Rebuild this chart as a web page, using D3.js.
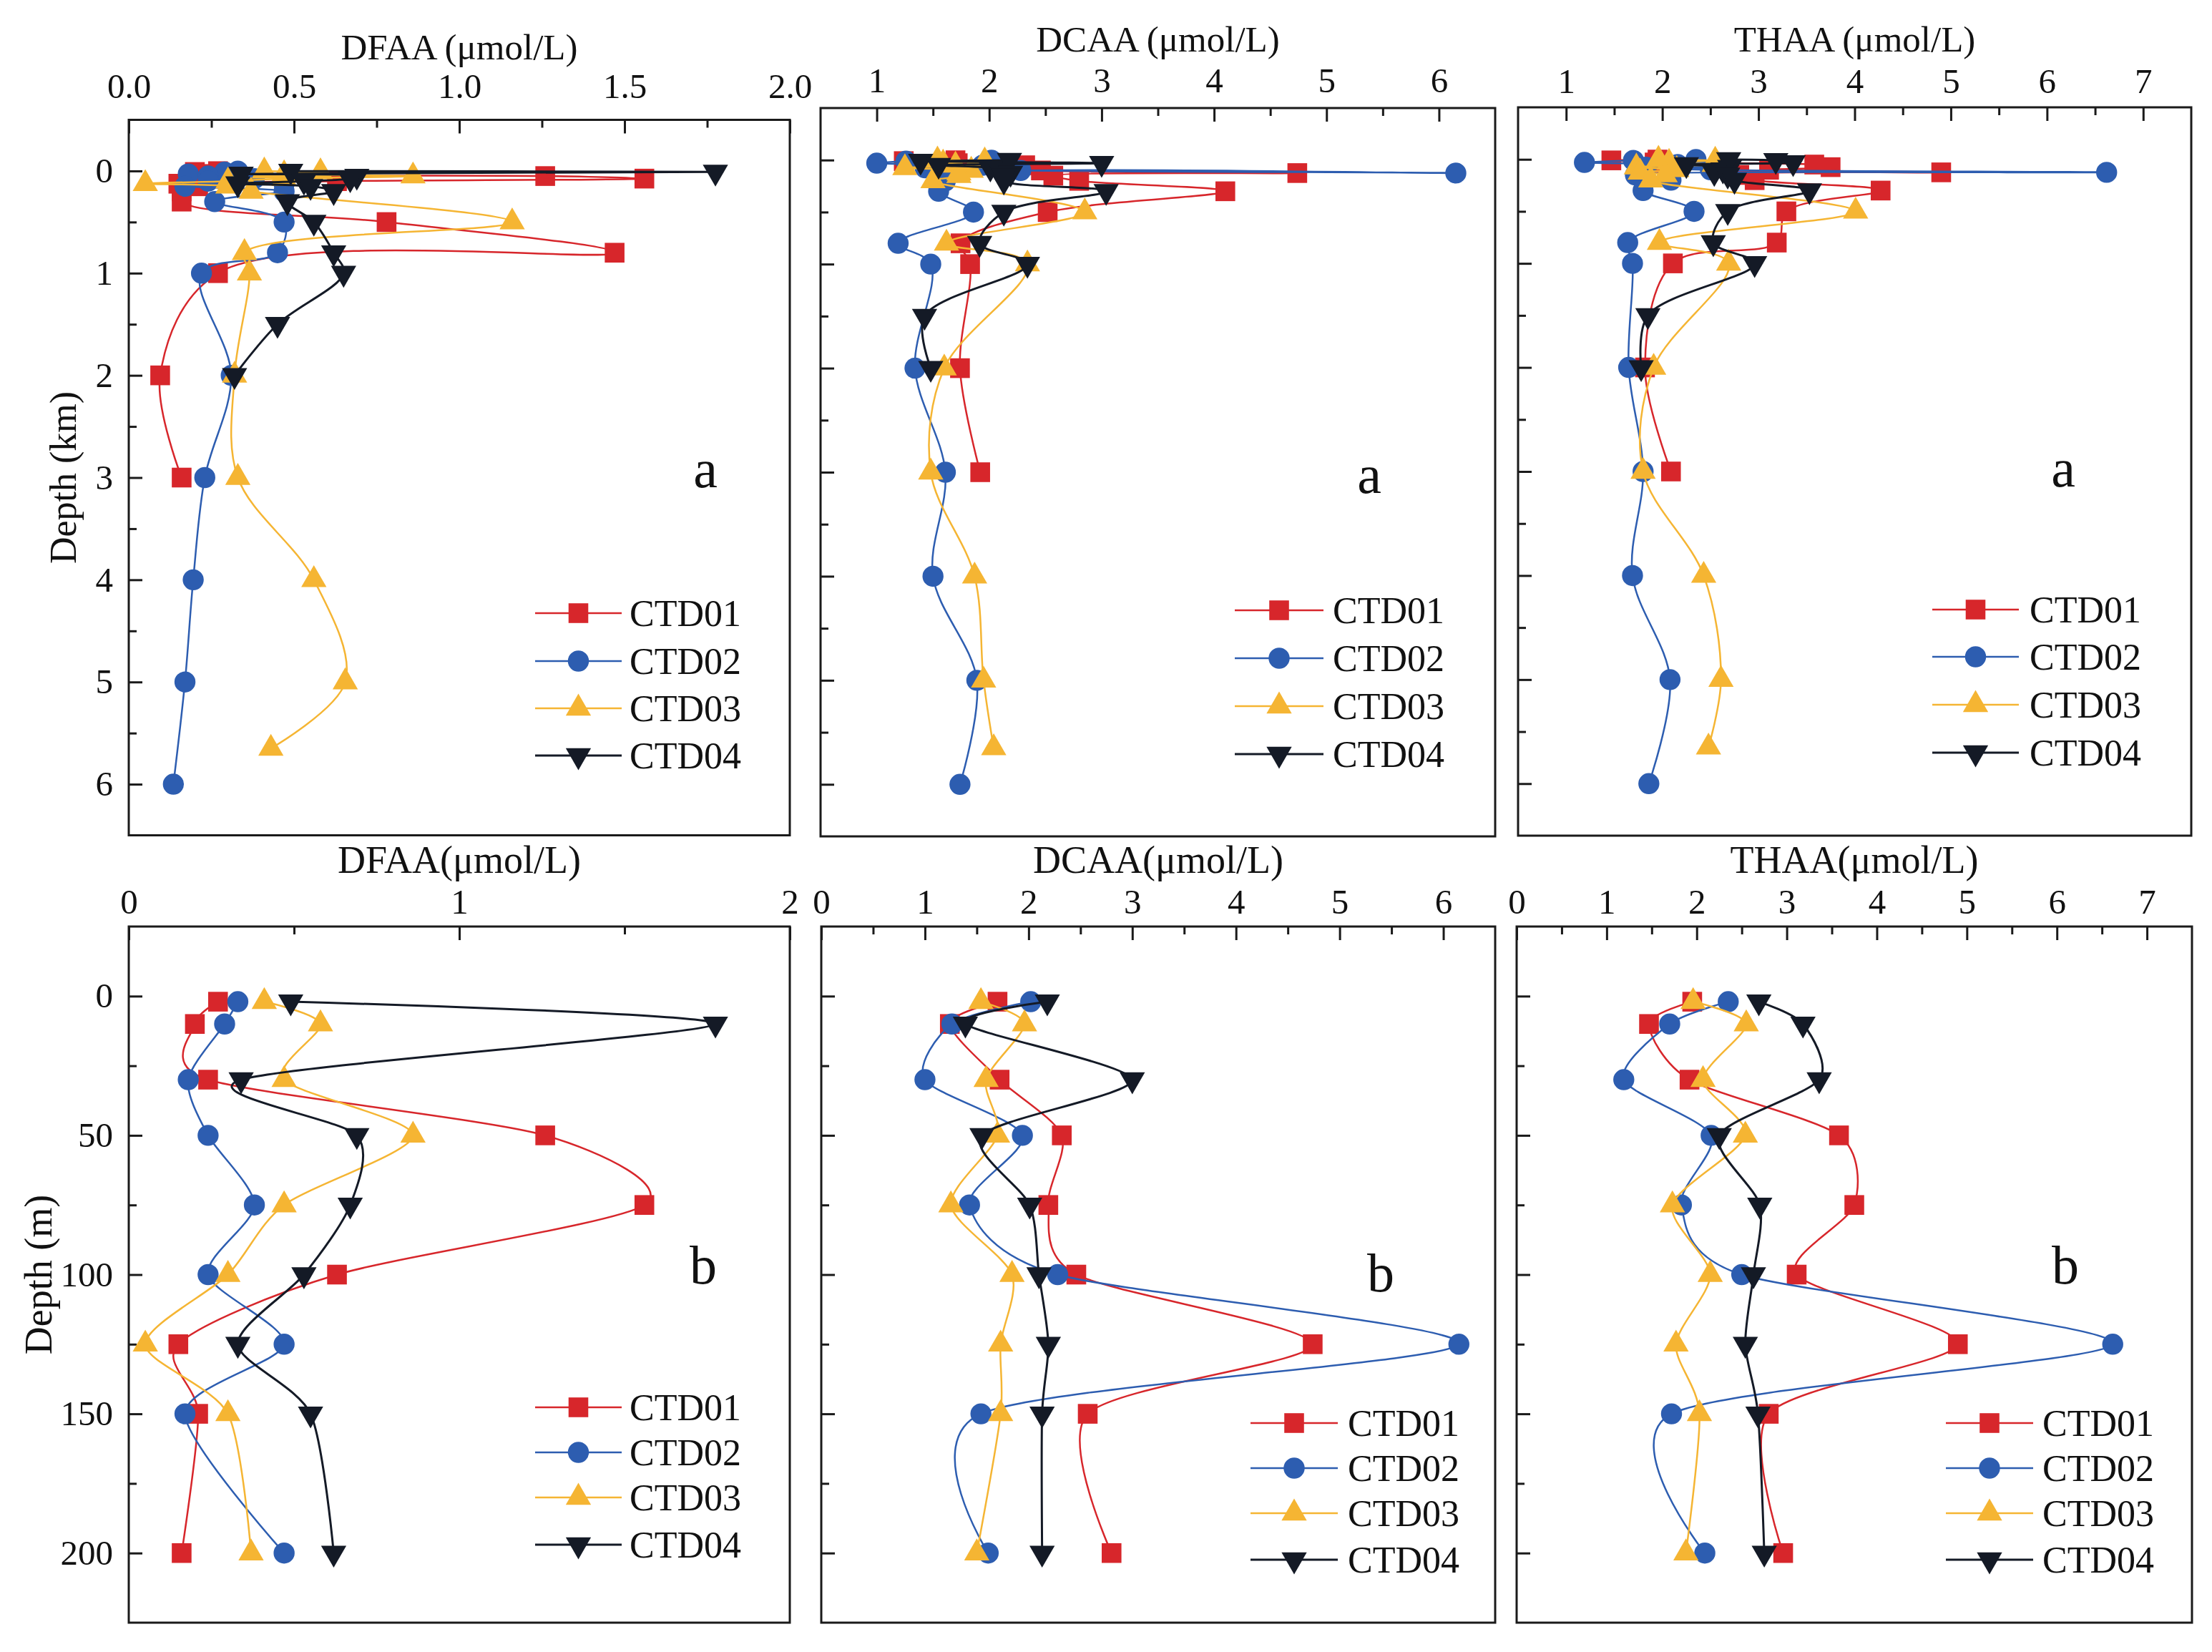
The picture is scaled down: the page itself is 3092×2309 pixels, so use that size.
<!DOCTYPE html>
<html>
<head>
<meta charset="utf-8">
<script src="https://d3js.org/d3.v7.min.js"></script>
<style>
  body { margin: 0; background: #fff; }
  text { font-family: "Liberation Serif", "Times New Roman", Times, serif; fill: #111; }
</style>
</head>
<body>
<script>
// ---- data: depth (m) per station, and concentration (umol/L) per variable ----
const stations = ["CTD01", "CTD02", "CTD03", "CTD04"];

const depthCTD01 = [2, 10, 30, 50, 75, 100, 125, 150, 200, 300, 500, 800, 1000, 2000, 3000];
const depthCTD02 = [2, 10, 30, 50, 75, 100, 125, 150, 200, 300, 500, 800, 1000, 2000, 3000, 4000, 5000, 6000];
const depthCTD03 = [2, 10, 30, 50, 75, 100, 125, 150, 200, 500, 800, 1000, 2000, 3000, 4000, 5000, 5650];
const depthCTD04 = [2, 10, 30, 50, 75, 100, 125, 150, 200, 300, 500, 800, 1000, 1500, 2000];

const dfaaCTD01 = [0.27, 0.20, 0.24, 1.26, 1.56, 0.63, 0.15, 0.21, 0.16, 0.16, 0.78, 1.47, 0.27, 0.095, 0.16];
const dfaaCTD02 = [0.33, 0.29, 0.18, 0.24, 0.38, 0.24, 0.47, 0.17, 0.47, 0.26, 0.47, 0.45, 0.22, 0.31, 0.23, 0.195, 0.17, 0.135];
const dfaaCTD03 = [0.41, 0.58, 0.47, 0.86, 0.47, 0.30, 0.05, 0.30, 0.37, 1.16, 0.35, 0.365, 0.32, 0.33, 0.56, 0.655, 0.43];
const dfaaCTD04 = [0.49, 1.775, 0.34, 0.69, 0.67, 0.53, 0.33, 0.55, 0.62, 0.48, 0.56, 0.62, 0.65, 0.45, 0.32];

const dcaaCTD01 = [1.70, 1.24, 1.72, 2.32, 2.19, 2.46, 4.74, 2.57, 2.80, 4.10, 2.52, 1.745, 1.83, 1.74, 1.92];
const dcaaCTD02 = [2.02, 1.26, 1.00, 1.94, 1.43, 2.28, 6.15, 1.54, 1.61, 1.55, 1.86, 1.19, 1.48, 1.34, 1.61, 1.50, 1.89, 1.74];
const dcaaCTD03 = [1.54, 1.96, 1.59, 1.70, 1.25, 1.84, 1.73, 1.73, 1.50, 2.85, 1.62, 2.34, 1.60, 1.48, 1.87, 1.95, 2.04];
const dcaaCTD04 = [2.18, 1.39, 3.00, 1.55, 2.01, 2.10, 2.19, 2.13, 2.13, 3.04, 2.13, 1.915, 2.34, 1.425, 1.48];

const thaaCTD01 = [1.95, 1.47, 1.92, 3.58, 3.75, 3.11, 4.90, 2.80, 2.96, 4.27, 3.29, 3.19, 2.11, 1.82, 2.09];
const thaaCTD02 = [2.35, 1.70, 1.19, 2.16, 1.83, 2.50, 6.62, 1.72, 2.09, 1.80, 2.33, 1.64, 1.69, 1.65, 1.80, 1.69, 2.08, 1.86];
const thaaCTD03 = [1.96, 2.55, 2.07, 2.54, 1.73, 2.15, 1.77, 2.03, 1.88, 4.01, 1.97, 2.69, 1.91, 1.80, 2.43, 2.61, 2.48];
const thaaCTD04 = [2.69, 3.18, 3.36, 2.25, 2.70, 2.63, 2.54, 2.68, 2.75, 3.53, 2.68, 2.53, 2.96, 1.85, 1.78];

// tick values
const ticksDFAAa = [0, 0.5, 1, 1.5, 2],   minorDFAAa = [0.25, 0.75, 1.25, 1.75];
const ticksDCAAa = [1, 2, 3, 4, 5, 6],    minorDCAAa = [1.5, 2.5, 3.5, 4.5, 5.5];
const ticksTHAAa = [1, 2, 3, 4, 5, 6, 7], minorTHAAa = [1.5, 2.5, 3.5, 4.5, 5.5, 6.5];
const ticksDFAAb = [0, 1, 2],             minorDFAAb = [0.5, 1.5];
const ticksDCAAb = [0, 1, 2, 3, 4, 5, 6], minorDCAAb = [0.5, 1.5, 2.5, 3.5, 4.5, 5.5];
const ticksTHAAb = [0, 1, 2, 3, 4, 5, 6, 7], minorTHAAb = [0.5, 1.5, 2.5, 3.5, 4.5, 5.5, 6.5];
const depthTicksKm = [0, 1, 2, 3, 4, 5, 6], depthMinorKm = [0.5, 1.5, 2.5, 3.5, 4.5, 5.5];
const depthTicksM = [0, 50, 100, 150, 200], depthMinorM = [25, 75, 125, 175];

const depths = [depthCTD01, depthCTD02, depthCTD03, depthCTD04];
const values = {
  DFAA: [dfaaCTD01, dfaaCTD02, dfaaCTD03, dfaaCTD04],
  DCAA: [dcaaCTD01, dcaaCTD02, dcaaCTD03, dcaaCTD04],
  THAA: [thaaCTD01, thaaCTD02, thaaCTD03, thaaCTD04]
};

const colors = ["#d7262b", "#2d5db0", "#f5b533", "#141a26"];
const symbols = [d3.symbolSquare, d3.symbolCircle, d3.symbolTriangle, d3.symbolTriangle];
const symSize = [760, 680, 540, 540];
const symRot = [0, 0, 0, 180];
const serif = "Liberation Serif, Times New Roman, Times, serif";

const W = 3092, H = 2309;
const svg = d3.select("body").append("svg")
  .attr("width", W).attr("height", H)
  .style("background", "#fff");

const panels = [
  {v: "DFAA", row: "a", l: 180, r: 1104, t: 167.5, b: 1167.5, xd: [0, 2], maj: ticksDFAAa, min: minorDFAAa, fmt: d3.format(".1f"),
   title: "DFAA (\u03bcmol/L)", titleY: 83, pad: 31, letter: [986, 658], leg: [748, 869, 880, [857, 924, 990, 1056]], yTitle: "Depth (km)"},
  {v: "DCAA", row: "a", l: 1147, r: 2090, t: 151, b: 1169, xd: [0.5, 6.5], maj: ticksDCAAa, min: minorDCAAa, fmt: d3.format("d"),
   title: "DCAA (\u03bcmol/L)", titleY: 72, pad: 22, letter: [1914, 666], leg: [1726, 1850, 1863, [853, 920, 987, 1054]]},
  {v: "THAA", row: "a", l: 2122, r: 3063, t: 150, b: 1168, xd: [0.5, 7.5], maj: ticksTHAAa, min: minorTHAAa, fmt: d3.format("d"),
   title: "THAA (\u03bcmol/L)", titleY: 72, pad: 20, letter: [2884, 657], leg: [2701, 2822, 2837, [852, 918, 985, 1052]]},
  {v: "DFAA", row: "b", l: 180, r: 1104, t: 1295, b: 2268, xd: [0, 2], maj: ticksDFAAb, min: minorDFAAb, fmt: d3.format("d"),
   title: "DFAA(\u03bcmol/L)", titleY: 1220, pad: 18, letter: [983, 1771], leg: [748, 869, 880, [1967, 2030, 2093, 2159]], yTitle: "Depth (m)"},
  {v: "DCAA", row: "b", l: 1148, r: 2090, t: 1295, b: 2268, xd: [0, 6.5], maj: ticksDCAAb, min: minorDCAAb, fmt: d3.format("d"),
   title: "DCAA(\u03bcmol/L)", titleY: 1220, pad: 18, letter: [1930, 1782], leg: [1748, 1870, 1884, [1989, 2052, 2115, 2180]]},
  {v: "THAA", row: "b", l: 2120, r: 3064, t: 1295, b: 2268, xd: [0, 7.5], maj: ticksTHAAb, min: minorTHAAb, fmt: d3.format("d"),
   title: "THAA(\u03bcmol/L)", titleY: 1220, pad: 18, letter: [2887, 1771], leg: [2720, 2842, 2855, [1989, 2052, 2115, 2180]]}
];

panels.forEach(p => {
  const isA = p.row === "a";
  const x = d3.scaleLinear().domain(p.xd).range([p.l, p.r]);
  const y = isA
    ? d3.scaleLinear().domain([-0.5, 6.5]).range([p.t, p.b])
    : d3.scaleLinear().domain([-25, 225]).range([p.t, p.b]);
  const g = svg.append("g");

  // frame
  g.append("rect")
    .attr("x", p.l).attr("y", p.t)
    .attr("width", p.r - p.l).attr("height", p.b - p.t)
    .attr("fill", "none").attr("stroke", "#1a1a1a").attr("stroke-width", 3);

  // top axis, ticks pointing inward
  const gx = g.append("g").attr("transform", `translate(0,${p.t})`)
    .call(d3.axisTop(x).tickValues(p.maj).tickSize(-19).tickPadding(p.pad).tickFormat(p.fmt));
  const gxm = g.append("g").attr("transform", `translate(0,${p.t})`)
    .call(d3.axisTop(x).tickValues(p.min).tickSize(-11).tickFormat(""));

  // left axis
  const yMaj = isA ? depthTicksKm : depthTicksM;
  const yMin = isA ? depthMinorKm : depthMinorM;
  const gy = g.append("g").attr("transform", `translate(${p.l},0)`)
    .call(d3.axisLeft(y).tickValues(yMaj).tickSize(-19).tickPadding(22)
      .tickFormat(p.yTitle ? d3.format("d") : ""));
  const gym = g.append("g").attr("transform", `translate(${p.l},0)`)
    .call(d3.axisLeft(y).tickValues(yMin).tickSize(-11).tickFormat(""));

  [gx, gxm, gy, gym].forEach(a => {
    a.attr("font-family", serif);
    a.select(".domain").remove();
    a.selectAll("line").attr("stroke", "#1a1a1a").attr("stroke-width", 3);
    a.selectAll("text").attr("font-size", 49).attr("fill", "#111");
  });

  // x title
  g.append("text").attr("x", (p.l + p.r) / 2).attr("y", p.titleY)
    .attr("text-anchor", "middle").attr("font-size", isA ? 51 : 54).text(p.title);

  // y title
  if (p.yTitle) {
    const cx = isA ? 106 : 72;
    const cy = (p.t + p.b) / 2;
    g.append("text").attr("transform", `translate(${cx},${cy}) rotate(-90)`)
      .attr("text-anchor", "middle").attr("font-size", isA ? 52 : 54).text(p.yTitle);
  }

  // series: spline through the points
  const line = d3.line()
    .x(d => x(d.v))
    .y(d => y(d.d))
    .curve(isA ? d3.curveCatmullRom.alpha(0.5) : d3.curveCardinal.tension(0.2));

  stations.forEach((s, i) => {
    let pts = depths[i].map((dep, j) => ({d: isA ? dep / 1000 : dep, v: values[p.v][i][j]}));
    if (!isA) pts = pts.filter(q => q.d <= 200);
    g.append("path").datum(pts)
      .attr("d", line)
      .attr("fill", "none")
      .attr("stroke", colors[i])
      .attr("stroke-width", i === 3 ? 3 : 2.5);
    g.selectAll(null).data(pts).enter().append("path")
      .attr("d", d3.symbol().type(symbols[i]).size(symSize[i]))
      .attr("transform", d => `translate(${x(d.v)},${y(d.d)}) rotate(${symRot[i]})`)
      .attr("fill", colors[i]);
  });

  // legend
  const [lx0, lx1, tx, rows] = p.leg;
  stations.forEach((s, i) => {
    const ry = rows[i];
    g.append("line").attr("x1", lx0).attr("x2", lx1).attr("y1", ry).attr("y2", ry)
      .attr("stroke", colors[i]).attr("stroke-width", i === 3 ? 3 : 2.5);
    g.append("path")
      .attr("d", d3.symbol().type(symbols[i]).size(symSize[i]))
      .attr("transform", `translate(${(lx0 + lx1) / 2},${ry}) rotate(${symRot[i]})`)
      .attr("fill", colors[i]);
    g.append("text").attr("x", tx).attr("y", ry).attr("dy", "0.35em")
      .attr("font-size", 52).text(s);
  });

  // panel letter
  g.append("text").attr("x", p.letter[0]).attr("y", p.letter[1]).attr("dy", "0.3em")
    .attr("text-anchor", "middle").attr("font-size", 76).text(p.row);
});
</script>
</body>
</html>
